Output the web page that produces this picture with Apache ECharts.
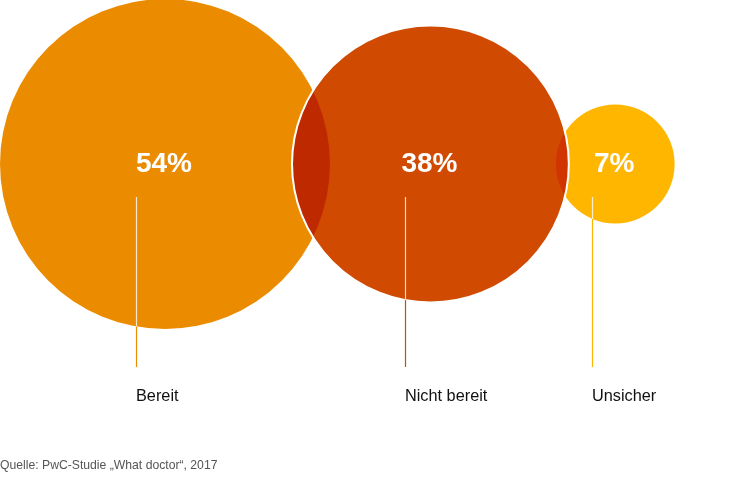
<!DOCTYPE html>
<html><head><meta charset="utf-8">
<script src="https://cdn.jsdelivr.net/npm/echarts@6/dist/echarts.min.js"></script>
<style>html,body{margin:0;padding:0;background:#fff}#c{width:752px;height:479px}</style>
</head><body><div id="c"></div>
<script>
// ---- data ----
const categories = ['Bereit', 'Nicht bereit', 'Unsicher'];
const values = [54, 38, 7];
const valueLabels = ['54%', '38%', '7%'];
const sourceText = 'Quelle: PwC-Studie \u201EWhat doctor\u201C, 2017';

// ---- style / layout ----
const colors = ['#EB8C00', '#D04A02', '#FFB600'];
const borderWidths = [0, 2, 0];
const LINE_OFFSETS = [-29, -25, -23]; // leader line offset from bubble centre (px)
const W = 752, H = 479;
const R_MAX = 165;          // radius of the largest bubble (px)
const OVERLAPS = [38, 13];  // overlap between neighbouring bubbles (px)
const CY = 164;             // vertical centre of bubbles
const LINE_BOTTOM = 367;
const LABEL_Y = 396;
const FONT = "'Liberation Sans', Arial, Helvetica, sans-serif";
const PCT_FONT_SIZE = 28;

const maxV = Math.max(...values);
const radius = v => R_MAX * Math.sqrt(v / maxV);
const radii = values.map(radius);
const centers = [];
radii.forEach((r, i) => {
  if (i === 0) centers.push(r);
  else centers.push(centers[i - 1] + radii[i - 1] + r - OVERLAPS[i - 1]);
});

const chart = echarts.init(document.getElementById('c'), null, {renderer: 'canvas'});
const seriesData = categories.map((c, i) => ({name: c, value: [centers[i], CY, values[i]], itemStyle: {color: colors[i]}}));

chart.setOption({
  animation: false,
  grid: {left: 0, right: 0, top: 0, bottom: 0},
  xAxis: {type: 'value', min: 0, max: W, show: false},
  yAxis: {type: 'value', min: 0, max: H, inverse: true, show: false},
  graphic: [{
    type: 'text', left: 0, top: 460,
    style: {text: sourceText, fill: '#555', font: '12.2px ' + FONT}
  }],
  series: [
    {
      type: 'scatter',
      blendMode: 'multiply',
      symbol: 'circle',
      symbolSize: v => 2 * radius(v[2]),
      data: seriesData,
      itemStyle: {opacity: 1},
      emphasis: {disabled: true},
      z: 1
    },
    {
      type: 'custom',
      z: 2,
      data: seriesData.map(d => d.value),
      renderItem: (params, api) => {
        const i = params.dataIndex;
        const c = api.coord([api.value(0), api.value(1)]);
        const r = radius(api.value(2));
        const lx = Math.round(c[0] + LINE_OFFSETS[i]) + 0.5;
        const y1 = c[1] + 33;
        const y2 = api.coord([0, LINE_BOTTOM])[1];
        const dx = lx - c[0];
        const yEdge = c[1] + Math.sqrt(Math.max(0, r * r - dx * dx));
        const children = [];
        if (borderWidths[i] > 0) {
          children.push({type: 'circle', shape: {cx: c[0], cy: c[1], r: r}, style: {fill: null, stroke: '#fff', lineWidth: borderWidths[i]}});
        }
        children.push({type: 'line', shape: {x1: lx, y1: y1, x2: lx, y2: y2}, style: {stroke: colors[i], lineWidth: 1.2}});
        children.push({type: 'line', shape: {x1: lx, y1: y1, x2: lx, y2: Math.min(yEdge, y2)}, style: {stroke: 'rgba(255,255,255,0.8)', lineWidth: 1.2}});
        children.push({type: 'text', style: {x: c[0] - 1, y: c[1], text: valueLabels[i], fill: '#fff', font: 'bold ' + PCT_FONT_SIZE + 'px ' + FONT, align: 'center', verticalAlign: 'middle'}});
        children.push({type: 'text', style: {x: lx - 0.5, y: api.coord([0, LABEL_Y])[1] + 1, text: categories[i], fill: '#111', font: '16.3px ' + FONT, align: 'left', verticalAlign: 'middle'}});
        return {type: 'group', children: children};
      }
    }
  ]
});
</script>
</body></html>
